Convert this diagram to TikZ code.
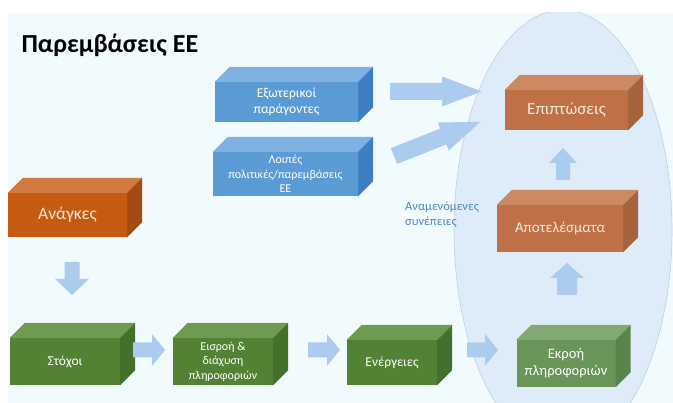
\documentclass[tikz,border=0pt]{standalone}
\usepackage{fontspec}
\setmainfont{Carlito}
\definecolor{bgc}{HTML}{F1FBFD}
\definecolor{ellc}{HTML}{DEEBF8}
\definecolor{elld}{HTML}{BDD0E4}
\definecolor{arrowc}{HTML}{ABCBEF}
\definecolor{bluef}{HTML}{5B9BD5}
\definecolor{bluet}{HTML}{7FB1E2}
\definecolor{blues}{HTML}{3E7FC1}
\definecolor{oranf}{HTML}{C55A11}
\definecolor{orant}{HTML}{D27A40}
\definecolor{orans}{HTML}{A34B10}
\definecolor{brownf}{HTML}{BF7046}
\definecolor{brownt}{HTML}{CD8A62}
\definecolor{browns}{HTML}{A5633E}
\definecolor{greenf}{HTML}{548235}
\definecolor{greent}{HTML}{6E9A52}
\definecolor{greens}{HTML}{43702A}
\definecolor{lgreenf}{HTML}{6A9558}
\definecolor{lgreent}{HTML}{83A873}
\definecolor{lgreens}{HTML}{5A8449}
\definecolor{creamc}{HTML}{F7E6DA}
\definecolor{notec}{HTML}{4F84C4}
\tikzset{
  cubeface/.style={inner sep=1pt, align=center, text=white, font=\fontsize{13.5}{16.5}\selectfont},
}
% #1 name, #2 center, #3 width, #4 height, #5 front, #6 top, #7 side, #8 text, #9 extra style
\newcommand\mycube[9]{%
  \node[cubeface, fill=#5, minimum width=#3, minimum height=#4, #9] (#1) at #2 {#8};
  \fill[#6] (#1.north west) -- ([shift={(15,-15)}]#1.north west) -- ([shift={(15,-15)}]#1.north east) -- (#1.north east) -- cycle;
  \fill[#7] (#1.north east) -- ([shift={(15,-15)}]#1.north east) -- ([shift={(15,-15)}]#1.south east) -- (#1.south east) -- cycle;
}
% #1 tail, #2 angle, #3 length, #4 body half, #5 head half, #6 head length
\newcommand\barrow[6]{%
  \fill[arrowc, shift={#1}, rotate=#2] (0,-#4) -- (#3-#6,-#4) -- (#3-#6,-#5) -- (#3,0) -- (#3-#6,#5) -- (#3-#6,#4) -- (0,#4) -- cycle;
}
\begin{document}
\begin{tikzpicture}[x=1pt,y=-1pt]
\useasboundingbox (0,0) rectangle (673,403);
\fill[white] (0,0) rectangle (673,403);
\fill[bgc] (8,13) rectangle (673,403);
\begin{scope}
  \clip (8,13) rectangle (673,403);
  \draw[fill=ellc, draw=elld, line width=0.6pt] (563,230) ellipse [x radius=109, y radius=220];
\end{scope}

\node[anchor=west, font=\fontsize{26}{30}\selectfont\bfseries] (title) at (18,45) {Παρεμβάσεις ΕΕ};

\mycube{ext}{(286.5,102)}{143pt}{40pt}{bluef}{bluet}{blues}{Εξωτερικοί\\παράγοντες}{}
\mycube{oth}{(285.5,174)}{145pt}{44pt}{bluef}{bluet}{blues}{Λοιπές\\πολιτικές/παρεμβάσεις\\ΕΕ}{font=\fontsize{12}{14.5}\selectfont}
\mycube{needs}{(67.5,215)}{119pt}{44pt}{oranf}{orant}{orans}{Ανάγκες}{font=\fontsize{17.5}{21}\selectfont, text=creamc}
\mycube{goals}{(65,361.5)}{110pt}{47pt}{greenf}{greent}{greens}{Στόχοι}{}
\mycube{input}{(223,361.5)}{100pt}{47pt}{greenf}{greent}{greens}{Εισροή \&\\διάχυση\\πληροφοριών}{font=\fontsize{12}{14.5}\selectfont}
\mycube{act}{(392,362.5)}{90pt}{45pt}{greenf}{greent}{greens}{Ενέργειες}{}
\mycube{out}{(566,363.5)}{99pt}{47pt}{lgreenf}{lgreent}{lgreens}{Εκροή\\πληροφοριών}{font=\fontsize{14.5}{17}\selectfont}
\mycube{res}{(560,228.5)}{126pt}{47pt}{brownf}{brownt}{browns}{Αποτελέσματα}{font=\fontsize{15}{18}\selectfont, text=creamc}
\mycube{imp}{(566.5,110)}{123pt}{40pt}{brownf}{brownt}{browns}{Επιπτώσεις}{font=\fontsize{17}{20}\selectfont, text=creamc}

\node[anchor=north west, align=left, text=notec, font=\fontsize{12.5}{15}\selectfont, inner sep=1pt] (note) at (404,201) {Αναμενόμενες\\συνέπειες};

\barrow{(72,262)}{-90}{33}{7.5}{17}{16}
\barrow{(133,350)}{0}{32}{7.5}{16}{13}
\barrow{(308,350)}{0}{32}{7.5}{16}{13}
\barrow{(467,350)}{0}{31}{7.5}{16}{13}
\barrow{(567,295)}{90}{32}{10}{17}{15}
\barrow{(563,180)}{90}{32}{7}{14}{15}
\barrow{(390,91.5)}{0}{92}{8.5}{15}{40}
\barrow{(394,156)}{21.6}{93}{8.5}{15}{40}
\end{tikzpicture}
\end{document}
